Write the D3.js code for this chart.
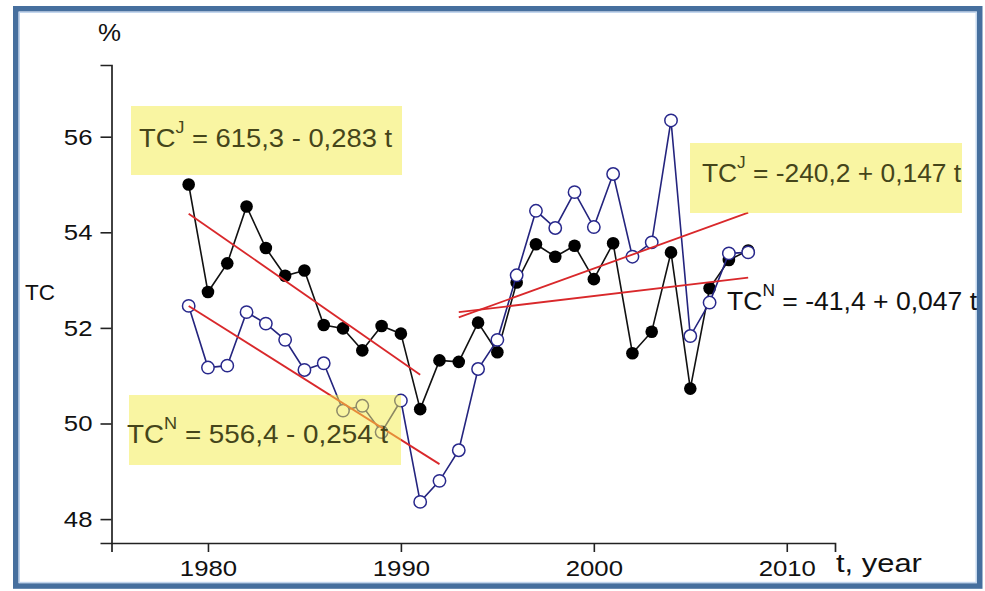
<!DOCTYPE html>
<html>
<head>
<meta charset="utf-8">
<script src="https://cdn.jsdelivr.net/npm/d3@7/dist/d3.min.js"></script>
<style>
  html, body { margin: 0; padding: 0; background: #fff; }
  svg { display: block; }
  text { font-family: "Liberation Sans", Arial, sans-serif; }
</style>
</head>
<body>
<svg id="chart" width="985" height="591"></svg>
<script>
// ---- data ----
const years = [1979, 1980, 1981, 1982, 1983, 1984, 1985, 1986, 1987, 1988,
               1989, 1990, 1991, 1992, 1993, 1994, 1995, 1996, 1997, 1998,
               1999, 2000, 2001, 2002, 2003, 2004, 2005, 2006, 2007, 2008];
const tcJ = [55.00, 52.75, 53.35, 54.54, 53.67, 53.09, 53.20, 52.06, 51.99, 51.53,
             52.04, 51.88, 50.30, 51.32, 51.29, 52.11, 51.49, 52.95, 53.75, 53.49,
             53.72, 53.02, 53.77, 51.47, 51.92, 53.58, 50.73, 52.83, 53.42, 53.62];
const tcN = [52.46, 51.17, 51.21, 52.33, 52.09, 51.75, 51.12, 51.26, 50.27, 50.37,
             49.82, 50.48, 48.36, 48.80, 49.44, 51.14, 51.75, 53.10, 54.45, 54.09,
             54.84, 54.11, 55.22, 53.49, 53.79, 56.34, 51.83, 52.53, 53.56, 53.58];
// trend line end points [year, value]
const trendJ1 = [[1979, 54.39], [1991, 51.02]];
const trendN1 = [[1979, 52.46], [1992, 49.15]];
const trendJ2 = [[1993, 52.22], [2008, 54.41]];
const trendN2 = [[1993, 52.33], [2008, 53.05]];
// tick values
const xMajorTicks = [1980, 1990, 2000, 2010];
const xMinorTicks = [1975, 1976, 1977, 1978, 1979, 1981, 1982, 1983, 1984, 1985, 1986, 1987, 1988, 1989,
                     1991, 1992, 1993, 1994, 1995, 1996, 1997, 1998, 1999,
                     2001, 2002, 2003, 2004, 2005, 2006, 2007, 2008, 2009, 2011, 2012];
const yMajorTicks = [48, 50, 52, 54, 56];
const yMinorTicks = [49, 51, 53, 55, 57];
// equation labels
const eqBase = ["TC", "TC", "TC", "TC"];
const eqSup = ["J", "N", "J", "N"];
const eqRest = [" = 615,3 - 0,283 t", " = 556,4 - 0,254 t", " = -240,2 + 0,147 t", " = -41,4 + 0,047 t"];
const eqBoxed = [true, true, true, false];

// ---- layout ----
const svg = d3.select("#chart");
const x = d3.scaleLinear().domain([1975, 2012.5]).range([111.5, 835]);
const y = d3.scaleLinear().domain([47.5, 57.5]).range([543, 65]);
const HS = 1.12; // horizontal stretch of the original picture's text

// frame
svg.append("rect").attr("x", 15.8).attr("y", 8.8).attr("width", 963.9).attr("height", 577.2)
  .attr("fill", "#fff").attr("stroke", "#466f9e").attr("stroke-width", 5.6);
svg.append("rect").attr("x", 19.3).attr("y", 12.3).attr("width", 956.9).attr("height", 570.2)
  .attr("fill", "none").attr("stroke", "#c3d6ee").attr("stroke-width", 1.4);

// axes
const gx = svg.append("g").attr("transform", `translate(0,${y.range()[0]})`);
gx.call(d3.axisBottom(x).tickValues(xMinorTicks).tickSize(5).tickFormat(""));
gx.call(d3.axisBottom(x).tickValues(xMajorTicks).tickSize(9).tickPadding(8).tickFormat(d3.format("d")));
const gy = svg.append("g").attr("transform", `translate(${x.range()[0]},0)`);
gy.call(d3.axisLeft(y).tickValues(yMinorTicks).tickSize(5).tickFormat(""));
gy.call(d3.axisLeft(y).tickValues(yMajorTicks).tickSize(11).tickPadding(8).tickFormat(d3.format("d")));
[gx, gy].forEach(g => {
  g.selectAll(".domain").attr("stroke", "#222").attr("stroke-width", 1.7);
  g.selectAll(".tick line").attr("stroke", "#222").attr("stroke-width", 1.6);
  g.selectAll(".tick text").attr("font-size", 23).attr("fill", "#111")
    .attr("font-family", "'Liberation Sans', Arial, sans-serif");
});
gx.selectAll(".tick text").attr("transform", `scale(${HS},1)`);
gy.selectAll(".tick text").each(function () {
  const t = d3.select(this); const tx = +t.attr("x");
  t.attr("transform", `translate(${tx},0) scale(${HS},1) translate(${-tx},0)`);
});

// fitted text helper
function fitText(sel, x0, targetW) {
  const w = sel.node().getBBox().width;
  const s = targetW / w;
  sel.attr("transform", `translate(${x0},0) scale(${s},1) translate(${-x0},0)`);
}

// axis titles
fitText(svg.append("text").attr("x", 98).attr("y", 41).attr("font-size", 24).attr("fill", "#111").text("%"), 98, 23);
fitText(svg.append("text").attr("x", 25).attr("y", 300).attr("font-size", 23).attr("fill", "#111").text("TC"), 25, 30);
fitText(svg.append("text").attr("x", 836).attr("y", 572).attr("font-size", 25).attr("fill", "#111").text("t, year"), 836, 86);

// series lines
const line = d3.line().x(d => x(d[0])).y(d => y(d[1]));
const ptsJ = years.map((yr, i) => [yr, tcJ[i]]);
const ptsN = years.map((yr, i) => [yr, tcN[i]]);

svg.append("path").datum(ptsJ).attr("d", line).attr("fill", "none")
  .attr("stroke", "#111").attr("stroke-width", 1.6);
svg.selectAll("circle.j").data(ptsJ).join("circle").attr("class", "j")
  .attr("cx", d => x(d[0])).attr("cy", d => y(d[1])).attr("r", 6.3).attr("fill", "#000");

svg.append("path").datum(ptsN).attr("d", line).attr("fill", "none")
  .attr("stroke", "#24247e").attr("stroke-width", 1.6);
svg.selectAll("circle.n").data(ptsN).join("circle").attr("class", "n")
  .attr("cx", d => x(d[0])).attr("cy", d => y(d[1])).attr("r", 6.2)
  .attr("fill", "#fff").attr("stroke", "#28288c").attr("stroke-width", 1.5);

// trend lines
[trendJ1, trendN1, trendJ2, trendN2].forEach(t => {
  svg.append("path").datum(t).attr("d", line).attr("fill", "none")
    .attr("stroke", "#d9282b").attr("stroke-width", 1.8);
});

// equation boxes & text
const boxRects = [[131, 106, 271, 69], [129, 395, 272, 70], [690, 143, 272, 70]];
const eqPos = [[139, 147, 254], [127, 443, 262], [702, 182, 260], [727, 310, 251]];
boxRects.forEach(b => {
  svg.append("rect").attr("x", b[0]).attr("y", b[1]).attr("width", b[2]).attr("height", b[3])
    .attr("fill", "rgb(243,236,70)").attr("fill-opacity", 0.5);
});
eqBase.forEach((base, i) => {
  const [ex, ey, ew] = eqPos[i];
  const t = svg.append("text").attr("x", ex).attr("y", ey).attr("font-size", 26)
    .attr("fill", eqBoxed[i] ? "#45451a" : "#111");
  t.append("tspan").text(base);
  t.append("tspan").attr("font-size", 17).attr("dy", -14).text(eqSup[i]);
  t.append("tspan").attr("dy", 14).text(eqRest[i]);
  fitText(t, ex, ew);
});
</script>
</body>
</html>
